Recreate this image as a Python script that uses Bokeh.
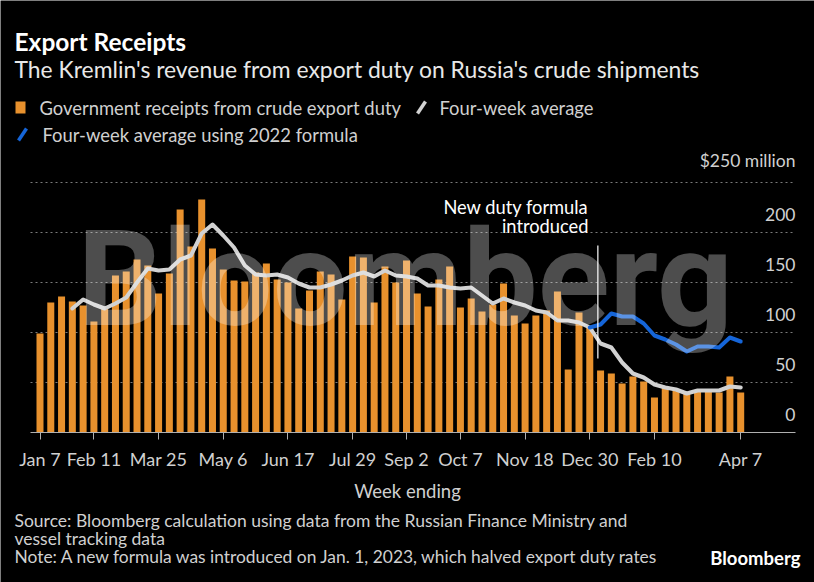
from bokeh.plotting import figure
from bokeh.models import Range1d, FixedTicker, Label, BoxAnnotation, Arrow, ColumnDataSource
from bokeh.core.properties import value
from bokeh.embed import file_html
from bokeh.resources import INLINE

# ---------------- data ----------------
week_index = list(range(66))  # weeks ending Jan 7, 2022 ... Apr 7, 2023
receipts = [99, 130, 136, 131, 127, 111, 124, 157, 161, 173,
            167, 139, 159, 223, 186, 233, 184, 163, 152, 151,
            160, 169, 153, 150, 124, 142, 161, 158, 133, 176,
            175, 130, 166, 150, 172, 139, 126, 153, 166, 125,
            134, 121, 128, 149, 117, 109, 117, 122, 141, 63,
            120, 105, 62, 59, 49, 56, 51, 35, 45, 43,
            39, 41, 41, 40, 56, 40]
avg_start = 3
four_week_avg = [124, 133, 128, 124, 129, 135, 150, 164, 162, 163,
                 173, 177, 199, 208, 197, 185, 167, 158, 157, 158,
                 155, 149, 145, 145, 148, 152, 157, 160, 156, 162,
                 157, 156, 154, 147, 147, 145, 144, 145, 137, 129,
                 134, 130, 127, 122, 120, 112, 112, 110, 105, 89,
                 85, 70, 59, 55, 48, 45, 43, 39, 42, 42,
                 42, 46, 45]
old_start = 51
four_week_avg_2022 = [105, 108, 119, 116, 116, 109, 97, 93, 88, 81,
                      86, 86, 85, 95, 91]
tick_idx = [0, 5, 11, 17, 23, 29, 34, 39, 45, 51, 57, 65]
tick_labels = ["Jan 7", "Feb 11", "Mar 25", "May 6", "Jun 17", "Jul 29",
               "Sep 2", "Oct 7", "Nov 18", "Dec 30", "Feb 10", "Apr 7"]
y_ticks = [0, 50, 100, 150, 200, 250]
y_labels = ["0", "50", "100", "150", "200", "$250 million"]
formula_change = 51.75  # Jan 1, 2023 on the week axis

# ---------------- layout ----------------
W, H = 814, 582
BASE_PX = 432          # canvas y of the zero line
PX_PER_WEEK = 10.78
X0_PX = 39.5           # canvas x of first week
PLOT_L, PLOT_R = 30, 795
x_start = -X0_PX / PX_PER_WEEK
x_end = x_start + W / PX_PER_WEEK
grid_lo = (PLOT_L - X0_PX) / PX_PER_WEEK
grid_hi = (PLOT_R - X0_PX) / PX_PER_WEEK

FONT = "Lato"
ORANGE = "#E8912D"
GREY_LINE = "#D2D2D2"
BLUE = "#1565D8"
TXT = "#D0D0D0"

p = figure(width=W, height=H, output_backend="svg", toolbar_location=None,
           x_range=Range1d(x_start, x_end), y_range=Range1d(BASE_PX - H, BASE_PX),
           y_axis_location=None, min_border=0)
p.background_fill_color = "black"
p.border_fill_color = "black"
p.outline_line_color = None
p.grid.visible = False

# dotted grid lines (limited horizontal extent)
gy = y_ticks[1:]
p.segment(x0=[grid_lo] * len(gy), x1=[grid_hi] * len(gy), y0=gy, y1=gy,
          line_color="#7a7a7a", line_dash="2 3", line_width=1)

# x axis drawn at zero
ax = p.xaxis[0]
ax.fixed_location = 0
ax.bounds = (grid_lo, grid_hi)
ax.ticker = FixedTicker(ticks=tick_idx)
ax.major_label_overrides = {t: l for t, l in zip(tick_idx, tick_labels)}
ax.axis_line_color = "#b0b0b0"
ax.major_tick_line_color = "#b0b0b0"
ax.major_tick_in = 0
ax.major_tick_out = 7
ax.minor_tick_line_color = None
ax.major_label_text_color = TXT
ax.major_label_text_font = FONT
ax.major_label_text_font_size = "18px"
ax.major_label_standoff = 8

# bars
src = ColumnDataSource(dict(x=week_index, y=receipts))
p.vbar(x="x", top="y", width=0.65, bottom=0, source=src, fill_color=ORANGE, line_color=None)

# lines
p.line(x=week_index[avg_start:], y=four_week_avg, line_color=GREY_LINE, line_width=4,
       line_join="round", line_cap="round")
p.line(x=week_index[old_start:], y=four_week_avg_2022, line_color=BLUE, line_width=4,
       line_join="round", line_cap="round")

# annotation line
p.segment(x0=[formula_change], x1=[formula_change], y0=[74], y1=[187],
          line_color="white", line_width=1.2)

# y labels (above grid lines)
p.text(x=[grid_hi] * len(y_ticks), y=y_ticks, text=y_labels, text_align="right",
       text_baseline="bottom", y_offset=-12, text_color=TXT,
       text_font=value(FONT), text_font_size="17.5px")


def lab(cx, cy, text, size, color=TXT, style="normal", align="left", baseline="middle",
        font=FONT, alpha=1.0):
    p.add_layout(Label(x=cx, y=H - cy, x_units="screen", y_units="screen", text=text,
                       text_font=font, text_font_size=f"{size}px", text_color=color,
                       text_font_style=style, text_align=align, text_baseline=baseline,
                       text_alpha=alpha))


lab(14, 41, "Export Receipts", 24.5, "white", "bold")
lab(14, 68, "The Kremlin's revenue from export duty on Russia's crude shipments", 22.9, "#E8E8E8")
lab(39, 107, "Government receipts from crude export duty", 18.4)
lab(439, 107, "Four-week average", 18.4)
lab(42, 134, "Four-week average using 2022 formula", 18.4)
lab(588, 206, "New duty formula", 18.3, "white", align="right")
lab(588, 225, "introduced", 18.3, "white", align="right")
lab(407, 490, "Week ending", 18.5, align="center")
lab(14, 520, "Source: Bloomberg calculation using data from the Russian Finance Ministry and", 17.5)
lab(14, 538, "vessel tracking data", 17.5)
lab(14, 556, "Note: A new formula was introduced on Jan. 1, 2023, which halved export duty rates", 17.4)
lab(800, 557, "Bloomberg", 18.5, "white", "bold", align="right")

# legend swatches
p.add_layout(BoxAnnotation(left=15, right=25, top=H - 101, bottom=H - 113,
                           left_units="screen", right_units="screen", top_units="screen",
                           bottom_units="screen", fill_color=ORANGE, fill_alpha=1, line_color=None))
for (x1, y1, x2, y2, c) in [(417, 113, 425, 101, GREY_LINE), (18, 140, 26, 128, BLUE)]:
    p.add_layout(Arrow(end=None, x_start=x1, y_start=H - y1, x_end=x2, y_end=H - y2,
                       start_units="screen", end_units="screen", line_color=c, line_width=3.5))

# watermark
lab(77, 279, "Bloomberg", 133, "white", "bold", baseline="alphabetic", font="Roboto", alpha=0.3)

open("out.html", "w").write(file_html(p, INLINE))
